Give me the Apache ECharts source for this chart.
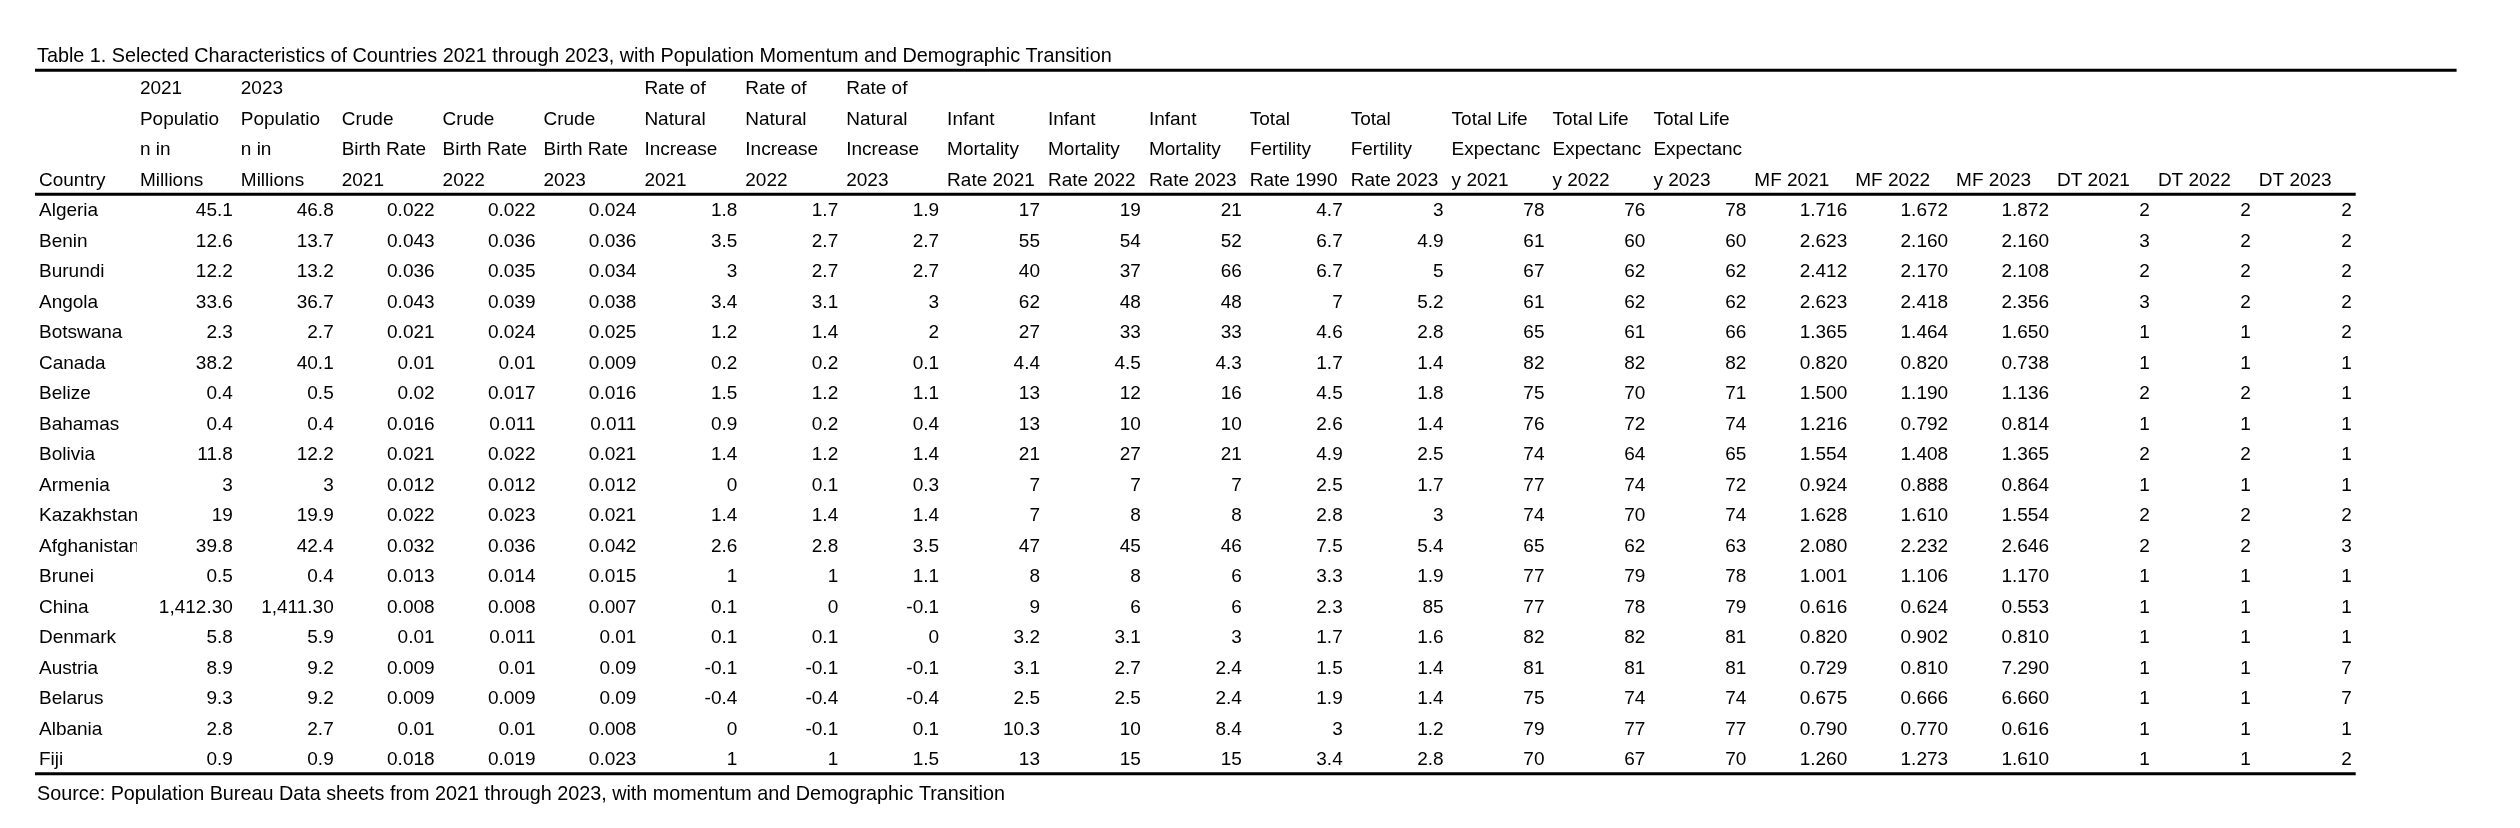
<!DOCTYPE html>
<html><head><meta charset="utf-8">
<script src="https://cdn.jsdelivr.net/npm/echarts@6/dist/echarts.min.js"></script>
<style>html,body{margin:0;padding:0;background:#fff}#c{width:2520px;height:828px}</style>
</head><body><div id="c"></div>
<script>
const titleText = 'Table 1. Selected Characteristics of Countries 2021 through 2023, with Population Momentum and Demographic Transition';
const sourceText = 'Source: Population Bureau Data sheets from 2021 through 2023, with momentum and Demographic Transition';

const headerLines = [
  ['', '', '', 'Country'],
  ['2021', 'Populatio', 'n in', 'Millions'],
  ['2023', 'Populatio', 'n in', 'Millions'],
  ['', 'Crude', 'Birth Rate', '2021'],
  ['', 'Crude', 'Birth Rate', '2022'],
  ['', 'Crude', 'Birth Rate', '2023'],
  ['Rate of', 'Natural', 'Increase', '2021'],
  ['Rate of', 'Natural', 'Increase', '2022'],
  ['Rate of', 'Natural', 'Increase', '2023'],
  ['', 'Infant', 'Mortality', 'Rate 2021'],
  ['', 'Infant', 'Mortality', 'Rate 2022'],
  ['', 'Infant', 'Mortality', 'Rate 2023'],
  ['', 'Total', 'Fertility', 'Rate 1990'],
  ['', 'Total', 'Fertility', 'Rate 2023'],
  ['', 'Total Life', 'Expectanc', 'y 2021'],
  ['', 'Total Life', 'Expectanc', 'y 2022'],
  ['', 'Total Life', 'Expectanc', 'y 2023'],
  ['', '', '', 'MF 2021'],
  ['', '', '', 'MF 2022'],
  ['', '', '', 'MF 2023'],
  ['', '', '', 'DT 2021'],
  ['', '', '', 'DT 2022'],
  ['', '', '', 'DT 2023']
];

const countries = ['Algeria','Benin','Burundi','Angola','Botswana','Canada','Belize','Bahamas','Bolivia','Armenia','Kazakhstan','Afghanistan','Brunei','China','Denmark','Austria','Belarus','Albania','Fiji'];
const pop2021 = [45.1,12.6,12.2,33.6,2.3,38.2,0.4,0.4,11.8,3,19,39.8,0.5,1412.3,5.8,8.9,9.3,2.8,0.9];
const pop2023 = [46.8,13.7,13.2,36.7,2.7,40.1,0.5,0.4,12.2,3,19.9,42.4,0.4,1411.3,5.9,9.2,9.2,2.7,0.9];
const cbr2021 = [0.022,0.043,0.036,0.043,0.021,0.01,0.02,0.016,0.021,0.012,0.022,0.032,0.013,0.008,0.01,0.009,0.009,0.01,0.018];
const cbr2022 = [0.022,0.036,0.035,0.039,0.024,0.01,0.017,0.011,0.022,0.012,0.023,0.036,0.014,0.008,0.011,0.01,0.009,0.01,0.019];
const cbr2023 = [0.024,0.036,0.034,0.038,0.025,0.009,0.016,0.011,0.021,0.012,0.021,0.042,0.015,0.007,0.01,0.09,0.09,0.008,0.023];
const rni2021 = [1.8,3.5,3,3.4,1.2,0.2,1.5,0.9,1.4,0,1.4,2.6,1,0.1,0.1,-0.1,-0.4,0,1];
const rni2022 = [1.7,2.7,2.7,3.1,1.4,0.2,1.2,0.2,1.2,0.1,1.4,2.8,1,0,0.1,-0.1,-0.4,-0.1,1];
const rni2023 = [1.9,2.7,2.7,3,2,0.1,1.1,0.4,1.4,0.3,1.4,3.5,1.1,-0.1,0,-0.1,-0.4,0.1,1.5];
const imr2021 = [17,55,40,62,27,4.4,13,13,21,7,7,47,8,9,3.2,3.1,2.5,10.3,13];
const imr2022 = [19,54,37,48,33,4.5,12,10,27,7,8,45,8,6,3.1,2.7,2.5,10,15];
const imr2023 = [21,52,66,48,33,4.3,16,10,21,7,8,46,6,6,3,2.4,2.4,8.4,15];
const tfr1990 = [4.7,6.7,6.7,7,4.6,1.7,4.5,2.6,4.9,2.5,2.8,7.5,3.3,2.3,1.7,1.5,1.9,3,3.4];
const tfr2023 = [3,4.9,5,5.2,2.8,1.4,1.8,1.4,2.5,1.7,3,5.4,1.9,85,1.6,1.4,1.4,1.2,2.8];
const le2021 = [78,61,67,61,65,82,75,76,74,77,74,65,77,77,82,81,75,79,70];
const le2022 = [76,60,62,62,61,82,70,72,64,74,70,62,79,78,82,81,74,77,67];
const le2023 = [78,60,62,62,66,82,71,74,65,72,74,63,78,79,81,81,74,77,70];
const mf2021 = [1.716,2.623,2.412,2.623,1.365,0.820,1.500,1.216,1.554,0.924,1.628,2.080,1.001,0.616,0.820,0.729,0.675,0.790,1.260];
const mf2022 = [1.672,2.160,2.170,2.418,1.464,0.820,1.190,0.792,1.408,0.888,1.610,2.232,1.106,0.624,0.902,0.810,0.666,0.770,1.273];
const mf2023 = [1.872,2.160,2.108,2.356,1.650,0.738,1.136,0.814,1.365,0.864,1.554,2.646,1.170,0.553,0.810,7.290,6.660,0.616,1.610];
const dt2021 = [2,3,2,3,1,1,2,1,2,1,2,2,1,1,1,1,1,1,1];
const dt2022 = [2,2,2,2,1,1,2,1,2,1,2,2,1,1,1,1,1,1,1];
const dt2023 = [2,2,2,2,2,1,1,1,1,1,2,3,1,1,1,7,7,1,2];

const FONT = '"Liberation Sans", Arial, sans-serif';
const FS = 19;
const FS_NOTE = 19.8;

function fmtGeneral(v) {
  if (Math.abs(v) >= 1000) return v.toLocaleString('en-US', {minimumFractionDigits: 2, maximumFractionDigits: 2});
  return String(v);
}
function fmtMF(v) { return v.toFixed(3); }

const valueCols = [
  [pop2021, fmtGeneral], [pop2023, fmtGeneral],
  [cbr2021, fmtGeneral], [cbr2022, fmtGeneral], [cbr2023, fmtGeneral],
  [rni2021, fmtGeneral], [rni2022, fmtGeneral], [rni2023, fmtGeneral],
  [imr2021, fmtGeneral], [imr2022, fmtGeneral], [imr2023, fmtGeneral],
  [tfr1990, fmtGeneral], [tfr2023, fmtGeneral],
  [le2021, fmtGeneral], [le2022, fmtGeneral], [le2023, fmtGeneral],
  [mf2021, fmtMF], [mf2022, fmtMF], [mf2023, fmtMF],
  [dt2021, fmtGeneral], [dt2022, fmtGeneral], [dt2023, fmtGeneral]
];

const colKeys = headerLines.map((h, i) => 'c' + i).concat(['blank']);
const rowKeys = ['h1', 'h2', 'h3', 'h4'].concat(countries);

const cells = [];
headerLines.forEach((lines, c) => {
  lines.forEach((t, r) => { if (t) cells.push({c: c, r: r, text: t, align: 'left'}); });
});
countries.forEach((name, i) => {
  cells.push({c: 0, r: 4 + i, text: name, align: 'left', clip: true});
  valueCols.forEach((vc, j) => {
    cells.push({c: j + 1, r: 4 + i, text: vc[1](vc[0][i]), align: 'right'});
  });
});

const lastRow = rowKeys.length - 1;
const rules = [
  {from: 0, to: colKeys.length - 1, row: 0, edge: -1, shift: -1.5},
  {from: 0, to: headerLines.length - 1, row: 3, edge: 1, shift: 0.5},
  {from: 0, to: headerLines.length - 1, row: lastRow, edge: 1, shift: 0.5}
];

const chart = echarts.init(document.getElementById('c'), null, {renderer: 'canvas'});
chart.setOption({
  backgroundColor: '#fff',
  animation: false,
  title: [
    {text: titleText, left: 37, top: 45.5, padding: 0,
     textStyle: {fontSize: FS_NOTE, fontWeight: 'normal', color: '#000', fontFamily: FONT, lineHeight: 22}},
    {text: sourceText, left: 37, top: 784, padding: 0,
     textStyle: {fontSize: FS_NOTE, fontWeight: 'normal', color: '#000', fontFamily: FONT, lineHeight: 22}}
  ],
  grid: {left: 35, top: 71.75, width: 24 * 100.9, height: 23 * 30.5},
  xAxis: {type: 'category', data: colKeys, show: false},
  yAxis: {type: 'category', data: rowKeys, inverse: true, show: false},
  series: [
    {
      type: 'custom', clip: false, silent: true,
      data: cells.map(d => [d.c, d.r]),
      renderItem: function (params, api) {
        const d = cells[params.dataIndex];
        const p = api.coord([d.c, d.r]);
        const s = api.size([1, 1]);
        const left = p[0] - s[0] / 2, right = p[0] + s[0] / 2;
        const el = {
          type: 'text',
          style: {
            text: d.text,
            x: d.align === 'left' ? left + 4 : right - 4,
            y: p[1] + 2,
            align: d.align, verticalAlign: 'middle',
            fill: '#000', fontSize: FS, fontFamily: FONT
          }
        };
        if (d.clip) el.clipPath = {type: 'rect', shape: {x: left, y: p[1] - s[1] / 2, width: s[0] + 1, height: s[1]}};
        return el;
      }
    },
    {
      type: 'custom', clip: false, silent: true,
      data: rules.map(r => [r.from, r.row]),
      renderItem: function (params, api) {
        const r = rules[params.dataIndex];
        const p0 = api.coord([r.from, r.row]);
        const p1 = api.coord([r.to, r.row]);
        const s = api.size([1, 1]);
        const y = p0[1] + r.edge * s[1] / 2 + r.shift;
        return {
          type: 'line',
          shape: {x1: p0[0] - s[0] / 2, y1: y, x2: p1[0] + s[0] / 2, y2: y},
          style: {stroke: '#000', lineWidth: 3}
        };
      }
    }
  ]
});
</script></body></html>
